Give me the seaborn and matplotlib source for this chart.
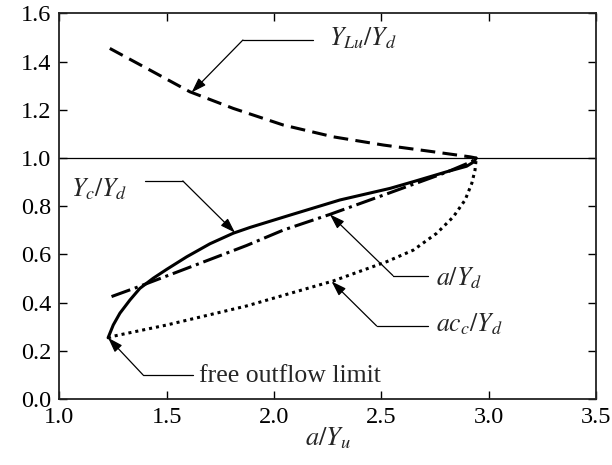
import numpy as np
import pandas as pd
import matplotlib
matplotlib.use("Agg")
import matplotlib.pyplot as plt
import seaborn as sns

# Dimensionless sluice-gate relations versus a/Y_u
yc_x = [1.227, 1.251, 1.282, 1.329, 1.375, 1.437, 1.50, 1.593, 1.701, 1.81,
        1.888, 2.074, 2.307, 2.54, 2.649, 2.804, 2.897, 2.930, 2.942]
yc_y = [0.254, 0.307, 0.356, 0.411, 0.459, 0.501, 0.538, 0.590, 0.644, 0.688,
        0.712, 0.763, 0.826, 0.874, 0.902, 0.943, 0.966, 0.984, 1.0]

a_x = [1.243, 1.36, 1.593, 1.872, 2.043, 2.26, 2.509, 2.80, 2.92, 2.942]
a_y = [0.425, 0.463, 0.542, 0.637, 0.701, 0.766, 0.846, 0.940, 0.985, 1.0]

acc_x = [1.227, 1.243, 1.50, 1.872, 2.074, 2.276, 2.525, 2.649, 2.758, 2.835,
         2.89, 2.921, 2.936, 2.942]
acc_y = [0.252, 0.259, 0.307, 0.386, 0.438, 0.490, 0.570, 0.618, 0.688, 0.756,
         0.826, 0.895, 0.950, 1.0]

ylu_x = [1.235, 1.422, 1.608, 1.81, 2.043, 2.276, 2.509, 2.742, 2.913, 2.942]
ylu_y = [1.455, 1.365, 1.275, 1.206, 1.137, 1.088, 1.054, 1.026, 1.005, 1.0]

x_ticks = [1.0, 1.5, 2.0, 2.5, 3.0, 3.5]
y_ticks = [0.0, 0.2, 0.4, 0.6, 0.8, 1.0, 1.2, 1.4, 1.6]

sns.set_style("ticks")
plt.rcParams["font.family"] = ["Liberation Serif", "DejaVu Serif"]
plt.rcParams["mathtext.fontset"] = "stix"

fig = plt.figure(figsize=(6.12, 4.65), dpi=100)
ax = fig.add_axes([0.097, 0.142, 0.877, 0.829])

lw = 2.2
series = [
    ("yc", yc_x, yc_y, dict(linestyle="-")),
    ("a", a_x, a_y, dict(linestyle=(0, (6.5, 1.6, 1.0, 1.6)))),
    ("acc", acc_x, acc_y, dict(linestyle=(0, (1.0, 1.3)))),
    ("ylu", ylu_x, ylu_y, dict(linestyle=(0, (4.8, 2.4)))),
]
for name, xs, ys, style in series:
    df = pd.DataFrame({"x": xs, "y": ys})
    sns.lineplot(data=df, x="x", y="y", ax=ax, sort=False, color="black",
                 linewidth=lw, dash_capstyle="butt", **style)

ax.axhline(1.0, color="black", linewidth=0.9)

ax.set_xlim(1.0, 3.5)
ax.set_ylim(0.0, 1.6)
ax.set_xticks(x_ticks)
ax.set_yticks(y_ticks)
ax.set_xticklabels([f"{v:.1f}" for v in x_ticks])
ax.set_yticklabels([f"{v:.1f}" for v in y_ticks])
ax.tick_params(direction="in", length=6, width=1.0, top=True, right=True,
               labelsize=17.5, colors="black")
ax.tick_params(axis="x", pad=6)
ax.tick_params(axis="y", pad=6)
for sp in ax.spines.values():
    sp.set_linewidth(1.3)
    sp.set_color("#222222")

ax.set_xlabel(r"$a/Y_u$", fontsize=19, labelpad=-2)
ax.set_ylabel("")

# Labels with leader lines and arrows
arrow = dict(arrowstyle="-|>,head_length=0.9,head_width=0.3", color="black",
             linewidth=0.9, shrinkA=0, shrinkB=0)
label_size = 18.5


def leader(text, tip_x, xs, ys, knee, end, text_xy, ha="left"):
    tip = (tip_x, float(np.interp(tip_x, xs, ys)))
    ax.plot([knee[0], end[0]], [knee[1], end[1]], color="black", linewidth=0.9)
    ax.annotate("", xy=tip, xytext=knee, arrowprops=arrow)
    ax.text(text_xy[0], text_xy[1], text, fontsize=label_size, ha=ha,
            va="baseline")


leader(r"$Y_{Lu}/Y_d$", 1.616, ylu_x, ylu_y, (1.855, 1.490), (2.181, 1.490),
       (2.258, 1.469))
leader(r"$Y_c/Y_d$", 1.818, yc_x, yc_y, (1.575, 0.905), (1.398, 0.905),
       (1.052, 0.840))
leader(r"$a/Y_d$", 2.26, a_x, a_y, (2.554, 0.512), (2.717, 0.512),
       (2.752, 0.473))
leader(r"$ac_c/Y_d$", 2.268, acc_x, acc_y, (2.478, 0.303), (2.717, 0.303),
       (2.752, 0.282))

tip0 = (yc_x[0], yc_y[0])
ax.plot([1.390, 1.621], [0.0996, 0.0996], color="black", linewidth=0.9)
ax.annotate("", xy=tip0, xytext=(1.390, 0.0996), arrowprops=arrow)
ax.text(1.650, 0.072, "free outflow limit", fontsize=label_size, ha="left",
        va="baseline")

fig.savefig("out.png", dpi=100)
